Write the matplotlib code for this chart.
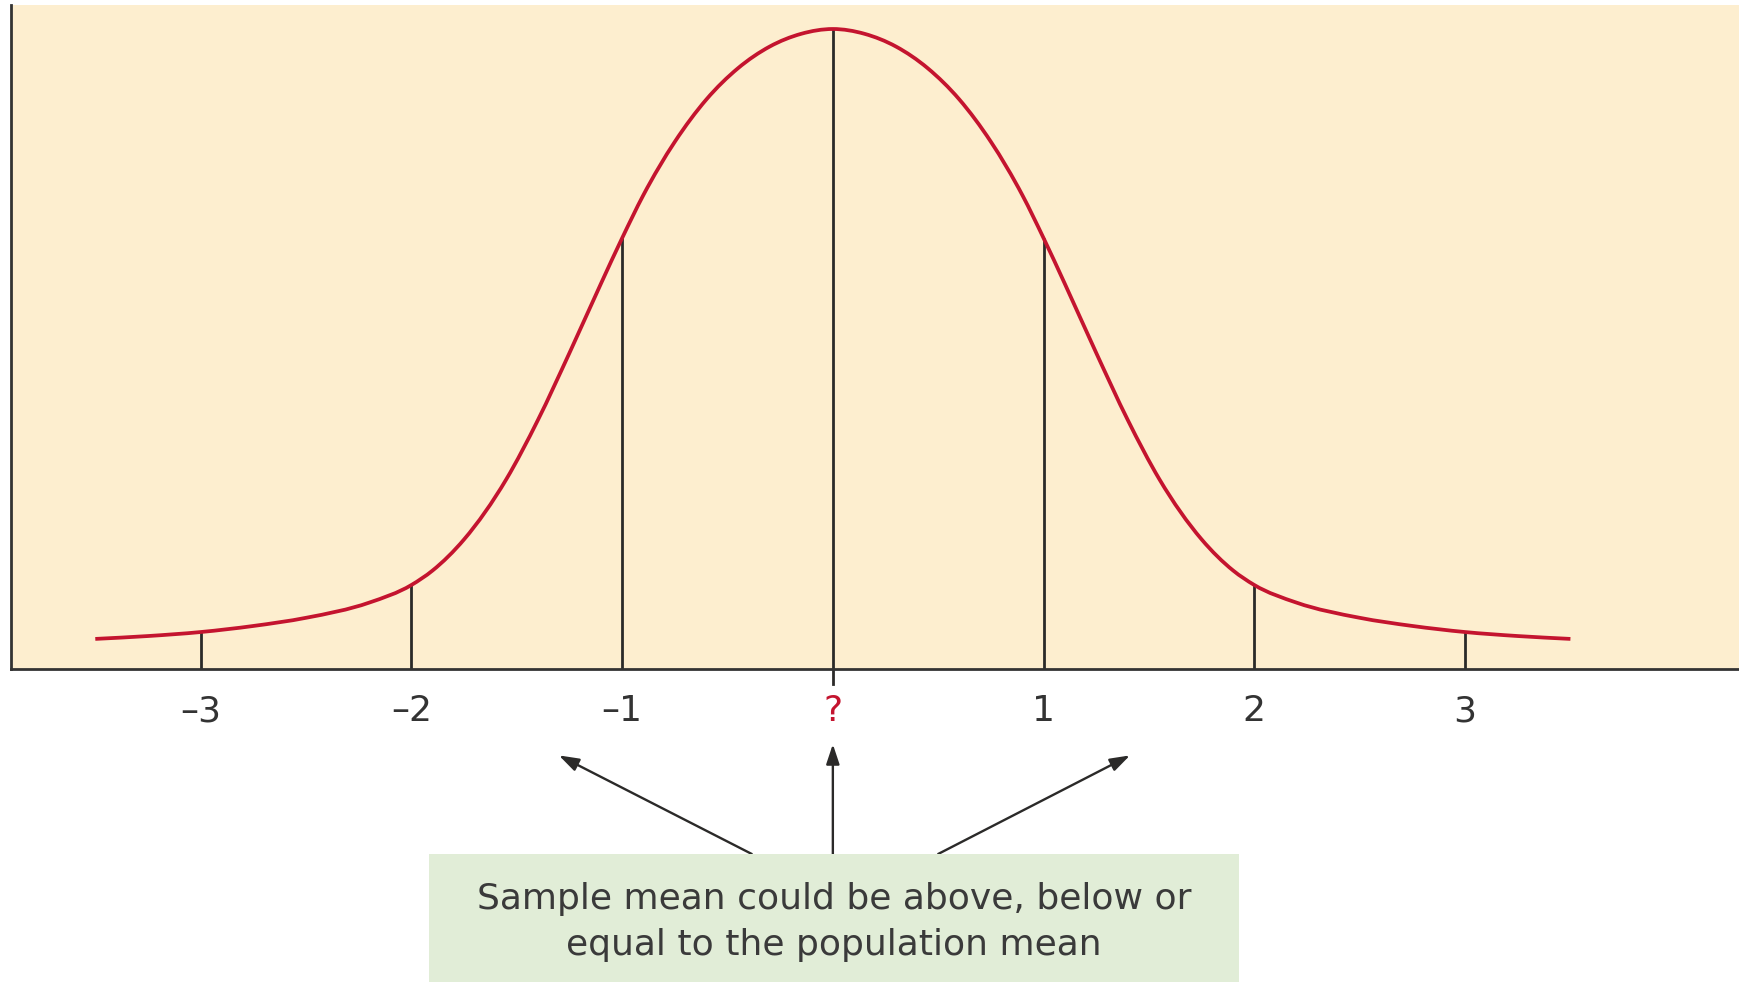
import numpy as np
import matplotlib.pyplot as plt
from matplotlib.path import Path
from matplotlib.patches import PathPatch

# bell curve heights read along the axis (right half, mirrored for the left)
half_x = [0, 0.15, 0.3, 0.45, 0.6, 0.75, 0.9, 1.0, 1.1, 1.25, 1.4,
          1.55, 1.75, 1.9, 2.0, 2.2, 2.5, 2.75, 3.0, 3.25, 3.5]
half_y = [0.400, 0.397, 0.389, 0.3755, 0.356, 0.3295, 0.296, 0.2693, 0.241,
          0.1975, 0.1555, 0.1185, 0.081, 0.0615, 0.0525, 0.0415, 0.032,
          0.0269, 0.0231, 0.0206, 0.0188]

sd_ticks = [-3, -2, -1, 0, 1, 2, 3]
sd_labels = ["\u20133", "\u20132", "\u20131", "?", "1", "2", "3"]
# height of each marker line (where it meets the curve)
sd_heights = [0.0231, 0.0525, 0.2693, 0.400, 0.2693, 0.0525, 0.0231]

note = "Sample mean could be above, below or\nequal to the population mean"

curve_x = [-v for v in half_x[::-1]] + half_x[1:]
curve_y = half_y[::-1] + half_y[1:]

RED = "#c4142f"
INK = "#2b2a29"


def smooth_path(xs, ys):
    # cubic bezier segments through every point, tangents from neighbours
    xs = np.asarray(xs, float)
    ys = np.asarray(ys, float)
    m = np.gradient(ys, xs)
    verts = [(xs[0], ys[0])]
    codes = [Path.MOVETO]
    for i in range(len(xs) - 1):
        d = (xs[i + 1] - xs[i]) / 3
        verts += [(xs[i] + d, ys[i] + m[i] * d),
                  (xs[i + 1] - d, ys[i + 1] - m[i + 1] * d),
                  (xs[i + 1], ys[i + 1])]
        codes += [Path.CURVE4] * 3
    return Path(verts, codes)


fig = plt.figure(figsize=(17.39, 9.82), dpi=100)
ax = fig.add_axes([11 / 1739, 1 - 669 / 982, 1 - 11 / 1739, 664 / 982])
ax.set_facecolor("#fdeecf")
ax.set_xlim(-3.9, 4.3)
ax.set_ylim(0, 0.415)

for s in ["top", "right"]:
    ax.spines[s].set_visible(False)
for s in ["left", "bottom"]:
    ax.spines[s].set_color("#333333")
    ax.spines[s].set_linewidth(2.0)
ax.set_yticks([])

ax.vlines(sd_ticks, 0, sd_heights, color=INK, lw=2.0, zorder=2)
# the centre line runs a little below the axis
ax.plot([0, 0], [-0.0095, 0], color=INK, lw=2.0, clip_on=False, zorder=2)
ax.add_patch(PathPatch(smooth_path(curve_x, curve_y), fill=False,
                       edgecolor=RED, lw=2.7, capstyle="butt", zorder=3))

ax.set_xticks(sd_ticks)
ax.set_xticklabels(sd_labels, fontsize=26, color="#333333")
ax.tick_params(axis="x", length=0, pad=18)
ax.get_xticklabels()[3].set_color(RED)

# arrows from the note box up to the axis
arrows = [((-0.385, -0.1156), (-1.30, -0.054)),
          ((0.0, -0.1156), (0.0, -0.047)),
          ((0.50, -0.1156), (1.41, -0.054))]
for (x0, y0), (x1, y1) in arrows:
    ax.annotate("", xy=(x1, y1), xytext=(x0, y0), xycoords="data",
                annotation_clip=False,
                arrowprops=dict(arrowstyle="-|>,head_length=1.2,head_width=0.4",
                                color=INK, lw=1.7, shrinkA=0, shrinkB=0))

box = fig.add_axes([429 / 1739, 0, 810 / 1739, 128 / 982])
box.set_facecolor("#e1edd7")
box.set_xticks([])
box.set_yticks([])
for s in box.spines.values():
    s.set_visible(False)
box.text(0.5, 0.47, note, ha="center", va="center", fontsize=26,
         color="#3a3a3a", linespacing=1.45, transform=box.transAxes)

fig.savefig("out.png", dpi=100)
